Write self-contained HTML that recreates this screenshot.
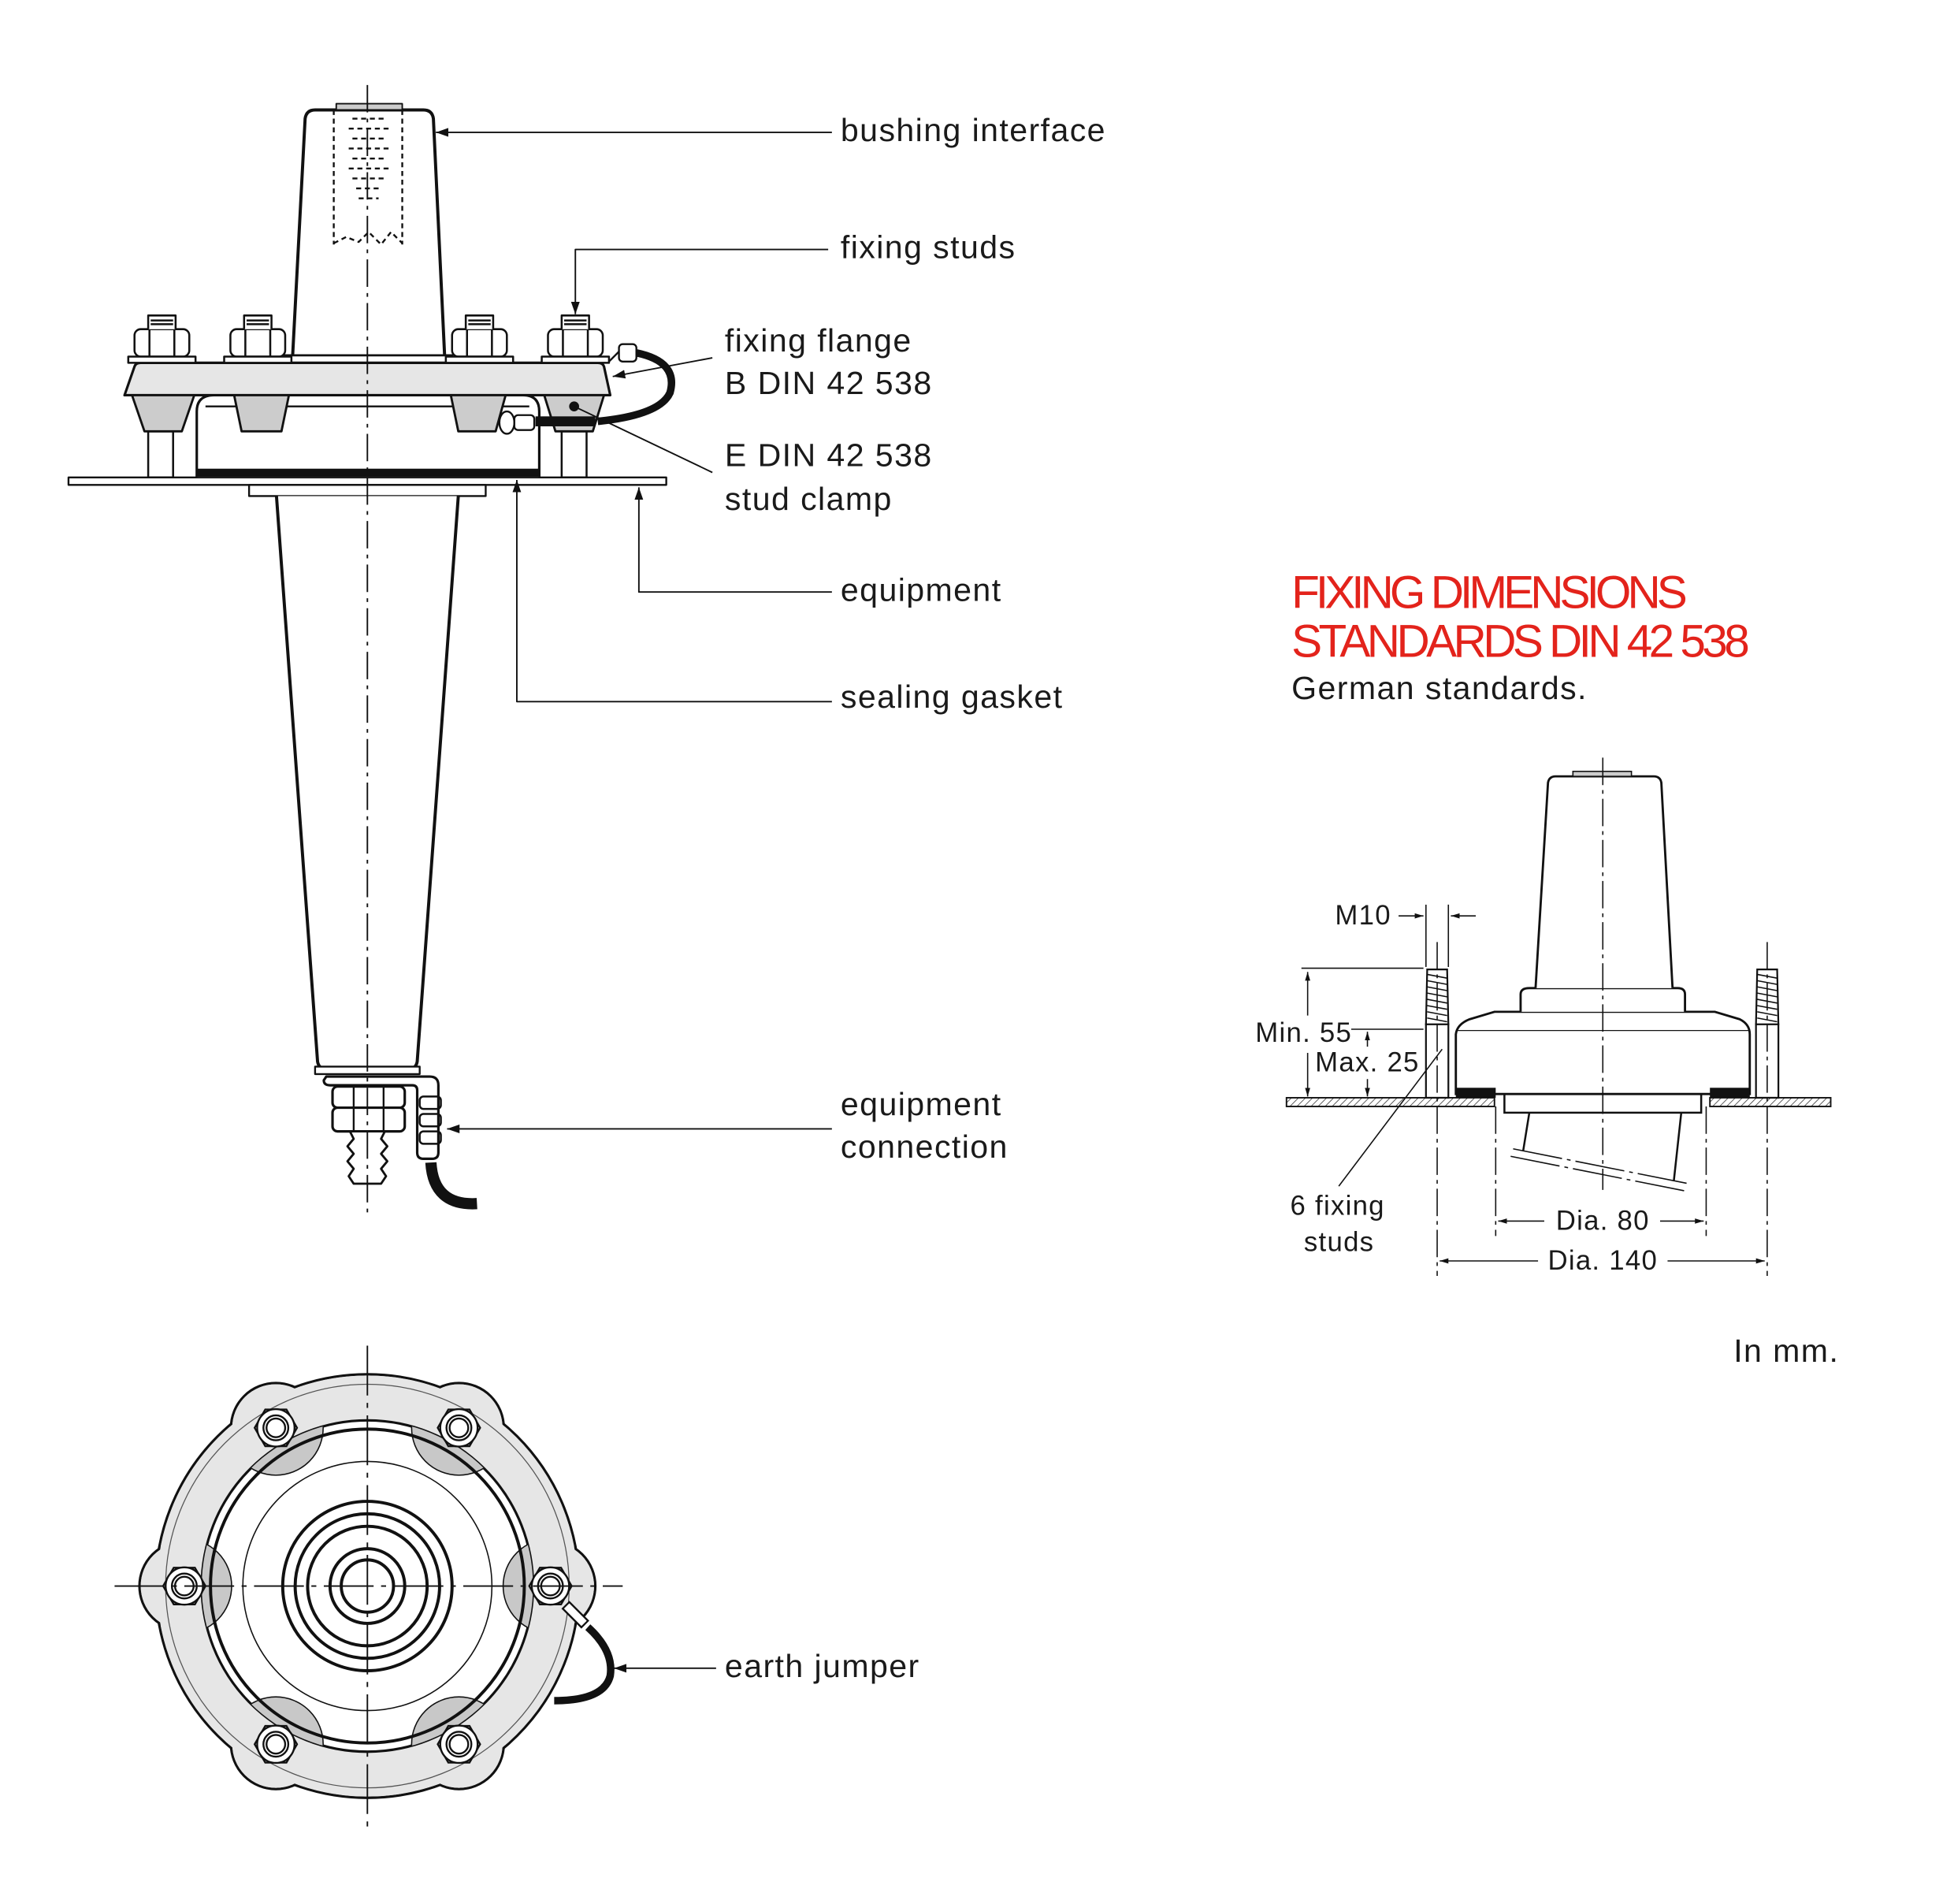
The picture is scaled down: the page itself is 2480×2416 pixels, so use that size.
<!DOCTYPE html>
<html><head><meta charset="utf-8"><style>
html,body{margin:0;padding:0;background:#fff}
svg{display:block}
text{font-family:"Liberation Sans",sans-serif;fill:#1a1a1a}
.lb{font-size:26px;letter-spacing:0.9px}
.dm{font-size:22px;letter-spacing:0.8px}
</style></head><body>
<svg width="2480" height="2416" viewBox="0 0 1569 1528" xmlns="http://www.w3.org/2000/svg">
<defs>
<marker id="ar" viewBox="0 0 10 10" refX="10" refY="5" markerWidth="10" markerHeight="10" markerUnits="userSpaceOnUse" orient="auto"><path d="M0,1.5 L10,5 L0,8.5z" fill="#111"/></marker>
<marker id="as" viewBox="0 0 10 10" refX="10" refY="5" markerWidth="7" markerHeight="7" markerUnits="userSpaceOnUse" orient="auto"><path d="M0,2 L10,5 L0,8z" fill="#111"/></marker>
<pattern id="hatch" width="4" height="4" patternUnits="userSpaceOnUse" patternTransform="rotate(45)"><rect width="4" height="4" fill="#fff"/><line x1="0" y1="0" x2="0" y2="4" stroke="#333" stroke-width="1"/></pattern>
<clipPath id="inner"><circle cx="295" cy="1273" r="133"/></clipPath>
</defs>

<!-- ===== SIDE VIEW ===== -->
<g stroke="#111" fill="none" stroke-linejoin="round">
<rect x="55" y="383" width="480" height="6" fill="#fff" stroke-width="1.5"/>
<rect x="200" y="389" width="190" height="9" fill="#fff" stroke-width="1.5"/>
<path d="M222,398 L255,852 Q256,858 262,858 L328,858 Q334,858 335,852 L368,398" fill="#fff" stroke-width="2.5"/>
<rect x="253" y="856" width="84" height="6" fill="#fff" stroke-width="1.5"/>
<path d="M262,864 L345,864 Q352,864 352,871 L352,925 Q352,930 347,930 L340,930 Q335,930 335,925 L335,875 Q335,871 331,871 L265,871 Q260,871 260,867z" fill="#fff" stroke-width="2"/>
<rect x="267" y="872" width="58" height="17" rx="4" fill="#fff" stroke-width="2"/>
<rect x="267" y="889" width="58" height="19" rx="4" fill="#fff" stroke-width="2"/>
<line x1="284" y1="872" x2="284" y2="908" stroke-width="1.5"/><line x1="308" y1="872" x2="308" y2="908" stroke-width="1.5"/>
<path d="M281,908 L309,908 L306,914 L311,920 L306,926 L311,932 L306,938 L310,944 L306,950 L284,950 L280,944 L284,938 L279,932 L284,926 L279,920 L284,914z" fill="#fff" stroke-width="1.8"/>
<rect x="337" y="880" width="17" height="10" rx="3" stroke-width="1.6"/>
<rect x="337" y="894" width="17" height="10" rx="3" stroke-width="1.6"/>
<rect x="337" y="908" width="17" height="10" rx="3" stroke-width="1.6"/>
<path d="M346,933 Q348,968 383,966" stroke-width="9"/>

<path d="M235,285 L245,95 Q246,88 253,88 L340,88 Q347,88 348,95 L357,285" fill="#fff" stroke-width="2.5"/>
<rect x="270" y="83" width="53" height="5" fill="#ccc" stroke-width="1.2"/>
<g stroke-dasharray="4,3" stroke-width="1.5">
<line x1="268" y1="88" x2="268" y2="196"/><line x1="323" y1="88" x2="323" y2="196"/>
<path d="M268,195 L278,190 L288,194 L296,186 L306,196 L314,186 L323,195"/>
<path d="M283,95 L310,95 M280,103 L313,103 M283,111 L310,111 M280,119 L313,119 M283,127 L310,127 M280,135 L313,135 M283,143 L310,143 M286,151 L307,151 M288,159 L304,159"/>
</g>
<rect x="228" y="285" width="135" height="6" fill="#fff" stroke-width="1.8"/>
<g fill="#fff" stroke-width="1.6">
<rect x="119" y="346" width="20" height="37"/><rect x="196" y="346" width="20" height="37"/>
<rect x="374" y="346" width="20" height="37"/><rect x="451" y="346" width="20" height="37"/>
</g>
<path d="M158,383 L158,330 Q158,317 172,317 L420,317 Q433,317 433,330 L433,383" fill="#fff" stroke-width="2"/>
<line x1="165" y1="326" x2="425" y2="326" stroke-width="1.5"/>
<rect x="158" y="376" width="275" height="7" fill="#111" stroke="none"/>
<path d="M108,294 Q109,291 113,291 L480,291 Q484,291 485,294 L490,317 L100,317z" fill="#e6e6e6" stroke-width="2"/>
<g fill="#ccc" stroke-width="1.8">
<path d="M106,317 L156,317 L146,346 L116,346z"/><path d="M188,317 L232,317 L226,346 L194,346z"/>
<path d="M362,317 L406,317 L398,346 L368,346z"/><path d="M437,317 L485,317 L476,346 L446,346z"/>
</g>
<circle cx="461" cy="326" r="4" fill="#111" stroke="none"/>
<rect x="430" y="334" width="48" height="8" fill="#111" stroke="none"/>
<ellipse cx="407" cy="339" rx="6" ry="9" fill="#fff" stroke-width="1.5"/>
<rect x="413" y="333" width="16" height="12" rx="3" fill="#fff" stroke-width="1.5"/>
<g fill="#fff" stroke-width="1.6">
<g id="nut"><rect x="108" y="264" width="44" height="22" rx="5"/><line x1="120" y1="264" x2="120" y2="286"/><line x1="140" y1="264" x2="140" y2="286"/><path d="M119,264 L119,253 L141,253 L141,264 M121,257 L139,257 M121,260 L139,260"/><rect x="103" y="286" width="54" height="5"/></g>
<use href="#nut" x="77"/><use href="#nut" x="255"/><use href="#nut" x="332"/>
</g>
<path d="M489,290 L497,282 L508,282" stroke-width="1.5"/>
<rect x="497" y="276" width="14" height="14" rx="3" fill="#fff" stroke-width="1.5"/>
<path d="M511,283 Q545,290 538,315 Q530,333 480,338" stroke-width="6"/>

<line x1="295" y1="68" x2="295" y2="978" stroke-width="1.2" stroke-dasharray="22,5,3,5"/>

<g stroke-width="1.2">
<line x1="668" y1="106" x2="350" y2="106" marker-end="url(#ar)"/>
<polyline points="665,200 462,200 462,252" marker-end="url(#ar)"/>
<line x1="572" y1="287" x2="492" y2="302" marker-end="url(#ar)"/>
<line x1="572" y1="379" x2="461" y2="326"/>
<polyline points="668,475 513,475 513,391" marker-end="url(#ar)"/>
<polyline points="668,563 415,563 415,385" marker-end="url(#ar)"/>
<line x1="668" y1="906" x2="359" y2="906" marker-end="url(#ar)"/>
<line x1="575" y1="1339" x2="493" y2="1339" marker-end="url(#ar)"/>
</g>
</g>

<text class="lb" x="675" y="113">bushing interface</text>
<text class="lb" x="675" y="207">fixing studs</text>
<text class="lb" x="582" y="282">fixing flange</text>
<text class="lb" x="582" y="316">B DIN 42 538</text>
<text class="lb" x="582" y="374">E DIN 42 538</text>
<text class="lb" x="582" y="409">stud clamp</text>
<text class="lb" x="675" y="482">equipment</text>
<text class="lb" x="675" y="568">sealing gasket</text>
<text class="lb" x="675" y="895">equipment</text>
<text class="lb" x="675" y="929">connection</text>
<text class="lb" x="582" y="1346">earth jumper</text>

<!-- ===== BOTTOM VIEW ===== -->
<g stroke="#111">
<g fill="#e6e6e6" stroke-width="2">
<circle cx="295" cy="1273" r="170"/>
<circle cx="148" cy="1273" r="36"/><circle cx="442" cy="1273" r="36"/>
<circle cx="221.5" cy="1146" r="36"/><circle cx="368.5" cy="1146" r="36"/>
<circle cx="221.5" cy="1400" r="36"/><circle cx="368.5" cy="1400" r="36"/>
</g>
<g fill="#e6e6e6" stroke="none">
<circle cx="295" cy="1273" r="169"/>
<circle cx="148" cy="1273" r="35"/><circle cx="442" cy="1273" r="35"/>
<circle cx="221.5" cy="1146" r="35"/><circle cx="368.5" cy="1146" r="35"/>
<circle cx="221.5" cy="1400" r="35"/><circle cx="368.5" cy="1400" r="35"/>
</g>
<circle cx="295" cy="1273" r="162" fill="none" stroke-width="0.8" stroke="#555"/>
<circle cx="295" cy="1273" r="133" fill="#fff" stroke-width="2"/>
<g clip-path="url(#inner)" fill="#c8c8c8" stroke="#111" stroke-width="1">
<circle cx="148" cy="1273" r="38"/><circle cx="442" cy="1273" r="38"/>
<circle cx="221.5" cy="1146" r="38"/><circle cx="368.5" cy="1146" r="38"/>
<circle cx="221.5" cy="1400" r="38"/><circle cx="368.5" cy="1400" r="38"/>
</g>
<g fill="none">
<circle cx="295" cy="1273" r="126" stroke-width="2.5"/>
<circle cx="295" cy="1273" r="100" stroke-width="1"/>
<circle cx="295" cy="1273" r="68" stroke-width="2.5"/>
<circle cx="295" cy="1273" r="58" stroke-width="2.5"/>
<circle cx="295" cy="1273" r="48" stroke-width="2.5"/>
<circle cx="295" cy="1273" r="30" stroke-width="2.5"/>
<circle cx="295" cy="1273" r="21" stroke-width="2.5"/>
</g>
<g fill="#fff" stroke-width="1.5">
<g id="bn"><polygon points="165,1273 156.5,1287.7 139.5,1287.7 131,1273 139.5,1258.3 156.5,1258.3"/><circle cx="148" cy="1273" r="15"/><circle cx="148" cy="1273" r="10"/><circle cx="148" cy="1273" r="7.5"/></g>
<use href="#bn" x="294"/><use href="#bn" x="73.5" y="-127"/><use href="#bn" x="220.5" y="-127"/>
<use href="#bn" x="73.5" y="127"/><use href="#bn" x="220.5" y="127"/>
</g>
<g stroke-width="1.2">
<line x1="295" y1="1080" x2="295" y2="1468" stroke-dasharray="40,6,4,6"/>
<line x1="92" y1="1273" x2="500" y2="1273" stroke-dasharray="40,6,4,6"/>
</g>
<path d="M454,1288 L470,1304" stroke-width="9" stroke-linecap="butt"/>
<path d="M455,1289 L469,1303" stroke="#fff" stroke-width="6"/>
<path d="M472,1306 Q493,1325 490,1345 Q485,1365 445,1365" fill="none" stroke-width="6"/>
</g>

<!-- ===== RIGHT: TITLE ===== -->
<text x="1037" y="488" style="font-family:'Liberation Sans Narrow','Liberation Sans',sans-serif;font-size:37px;fill:#e3231b" textLength="318">FIXING DIMENSIONS</text>
<text x="1037" y="527" style="font-family:'Liberation Sans Narrow','Liberation Sans',sans-serif;font-size:37px;fill:#e3231b" textLength="368">STANDARDS DIN 42 538</text>
<text class="lb" x="1037" y="561">German standards.</text>
<text class="lb" x="1392" y="1093">In mm.</text>

<!-- ===== RIGHT DIAGRAM ===== -->
<g stroke="#111" fill="none">
<rect x="1033" y="881" width="167" height="7" fill="url(#hatch)" stroke-width="1.2"/>
<rect x="1373" y="881" width="97" height="7" fill="url(#hatch)" stroke-width="1.2"/>
<rect x="1208" y="876" width="158" height="17" fill="#fff" stroke-width="1.6"/>
<path d="M1228,893 L1223,924 M1350,893 L1344,948" stroke-width="1.6"/>
<path d="M1215,922 L1356,950 M1213,928 L1354,956" stroke-width="1" stroke-dasharray="40,4,3,4"/>
<path d="M1169,878 L1169,830 Q1170,822 1180,818 L1200,812 L1377,812 L1397,818 Q1405,822 1405,830 L1405,878z" fill="#fff" stroke-width="1.8"/>
<line x1="1170" y1="827" x2="1404" y2="827" stroke-width="0.8"/>
<rect x="1169" y="873" width="32" height="8" fill="#111" stroke="none"/>
<rect x="1373" y="873" width="32" height="8" fill="#111" stroke="none"/>
<path d="M1221,812 L1221,798 Q1221,793 1228,793 L1347,793 Q1353,793 1353,798 L1353,812" fill="#fff" stroke-width="1.8"/>
<path d="M1233,793 L1243,628 Q1244,623 1249,623 L1328,623 Q1333,623 1334,628 L1343,793" fill="#fff" stroke-width="1.8"/>
<rect x="1263" y="619" width="47" height="4" fill="#ccc" stroke-width="1"/>
<g stroke-width="1.4" fill="#fff">
<rect x="1145" y="822" width="18" height="59"/><rect x="1410" y="822" width="18" height="59"/>
<path d="M1146,778 L1162,778 L1163,822 L1145,822z"/><path d="M1411,778 L1427,778 L1428,822 L1410,822z"/>
</g>
<path d="M1146,782 L1162,785 M1146,787 L1162,790 M1146,792 L1162,795 M1146,797 L1162,800 M1146,802 L1162,805 M1146,807 L1162,810 M1146,812 L1162,815 M1146,817 L1162,820 M1411,782 L1427,785 M1411,787 L1427,790 M1411,792 L1427,795 M1411,797 L1427,800 M1411,802 L1427,805 M1411,807 L1427,810 M1411,812 L1427,815 M1411,817 L1427,820" stroke-width="1"/>
<g stroke-width="1" stroke-dasharray="22,4,3,4">
<line x1="1287" y1="608" x2="1287" y2="955"/>
<line x1="1154" y1="756" x2="1154" y2="1024"/>
<line x1="1419" y1="756" x2="1419" y2="1024"/>
<line x1="1201" y1="888" x2="1201" y2="992"/>
<line x1="1370" y1="888" x2="1370" y2="992"/>
</g>
<g stroke-width="1">
<line x1="1145" y1="726" x2="1145" y2="776"/><line x1="1163" y1="726" x2="1163" y2="776"/>
<line x1="1123" y1="735" x2="1143" y2="735" marker-end="url(#as)"/>
<line x1="1185" y1="735" x2="1165" y2="735" marker-end="url(#as)"/>
<line x1="1045" y1="777" x2="1143" y2="777"/>
<line x1="1050" y1="845" x2="1050" y2="880" marker-end="url(#as)"/>
<line x1="1050" y1="815" x2="1050" y2="780" marker-end="url(#as)"/>
<line x1="1085" y1="826" x2="1143" y2="826"/>
<line x1="1098" y1="840" x2="1098" y2="828" marker-end="url(#as)"/>
<line x1="1098" y1="866" x2="1098" y2="880" marker-end="url(#as)"/>
<line x1="1075" y1="952" x2="1158" y2="842"/>
<line x1="1240" y1="980" x2="1203" y2="980" marker-end="url(#as)"/>
<line x1="1333" y1="980" x2="1368" y2="980" marker-end="url(#as)"/>
<line x1="1235" y1="1012" x2="1156" y2="1012" marker-end="url(#as)"/>
<line x1="1339" y1="1012" x2="1417" y2="1012" marker-end="url(#as)"/>
</g>
</g>
<text class="dm" x="1072" y="742">M10</text>
<text class="dm" x="1008" y="836">Min. 55</text>
<text class="dm" x="1056" y="860">Max. 25</text>
<text class="dm" x="1036" y="975">6 fixing</text>
<text class="dm" x="1047" y="1004">studs</text>
<text class="dm" x="1287" y="987" text-anchor="middle">Dia. 80</text>
<text class="dm" x="1287" y="1019" text-anchor="middle">Dia. 140</text>
</svg>
</body></html>
